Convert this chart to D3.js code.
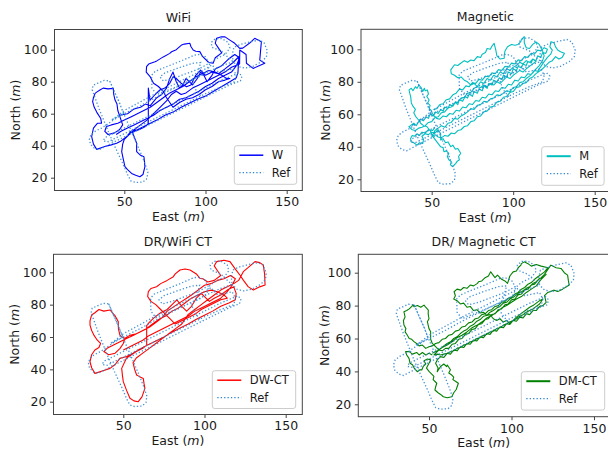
<!DOCTYPE html>
<html><head><meta charset="utf-8">
<script src="https://cdn.jsdelivr.net/npm/d3@7"></script>
<style>body{margin:0;background:#fff}svg{display:block}</style>
</head><body>
<svg id="c" width="608" height="450"></svg>
<script>
const xTicks=[50,100,150];
const yTicks=[20,40,60,80,100];
const titles=["WiFi","Magnetic","DR/WiFi CT","DR/ Magnetic CT"];
const seriesNames=["W","M","DW-CT","DM-CT"];
const refName="Ref";

const refPath=[
 [41,80.5],[44,73.5],[47.5,65.5],[50.5,58],[53.5,51],[56.5,44],[59.5,37],[62.5,29.5],[64.5,23.5],[64,19.5],[61.5,17.3],[57,17],[54,18],[52,22],[49,29],[46,35.5],[43.5,41],[40.5,48],[37.5,55.5],[34.5,63],[32,70],[30.2,75],[30.8,77.8],[33.5,79],[37.5,80.8],[41,80.5],
 [44,73.5],[47,67],[49.5,60],[44,56.5],[36,51],[32,49],[29.5,47],[28.5,44],[29.2,40.8],[31.5,38.5],[34.5,37.5],
 [45,43],[55,48],[65,53],[75,58],[85,63],[95,68],[105,73],[115,78],[121.5,80.5],[122.5,83.5],[120.5,85.5],
 [110,81],[100,76],[90,71],[80,66],[70,61],[60,56],[50,51],[42,47],[38,45],[37,43],[40,42.5],
 [50,47.5],[60,52.5],[70,57.5],[80,62.5],[90,67.5],[100,72.5],[110,77],[118,80],
 [119,84],[117,88],[108,86],[104,90.5],[100,88],
 [90,83],[80,78],[70,73],[60,67.5],[50,62],[45,58],[42,56],
 [50,60],[60,65],[70,70.5],[80,75.5],[90,80.5],[100,85.5],[110,90],[117,92.5],
 [116.5,97],[117.5,101.5],[122,103.5],[128,105],[133,106],[136,104.5],[138,99.5],[137.5,95.5],[134.5,92.5],[129,89.5],[124,88.5],[120,89.5],[117.5,92],
 [113,96],[110,99],[104,101.5],[103.5,104.5],[106,106.8],[110,107],[114,104.5],[115,101],[112,97],[106,94],
 [102.5,91],[101.5,87],[98,84],[90,80.5],[80,76],[70,72],[67,76],[66.8,84],[69,86.5],[75,89],[85,93],[93,96.5],[96,97],[100,95.5],[102.2,91.5],
 [96,88],[88,85],[80,82],[74,80.5],[72,83],[75,85.5],[83,88.5],[92,91.5],[97,92],
 [95,84],[92,80],[94,75],[98,70]
];

const wifiPath=[
 [47,59],[46,62],[45.5,66],[44.3,68.5],[43.5,72],[43.2,75.8],[40,75.5],[37,76],[35,74.8],[33,73.5],[32,72.7],[31,70],[30.5,67.5],[31.5,64],[33,61],[35.5,57],[36,54],[33.4,54],[31,51],[29.9,45.6],[31,41],[33,37.7],[38,39.5],[42,40.5],[45.3,41.5],[48,43],[51.4,45.6],
 [54,49],[58,50],[62,52],[66,54],[70,56],[75,59],[80,61],[85,64],[90,66.5],[95,69],[100,71],[105,74],[110,77],[115,80],[119,82.5],
 [120,86],[120.5,95.6],[117,92],[112,88],[108,85],[104,86],[100,84],[97,87.3],[94,84],[91,78],[88.3,76.9],[85,79],[82,82],[80.1,83.1],[78,79],[75,76],[71.9,74.8],[69,72],[65.8,68.5],
 [64.8,76],[64.8,54],[63,52],[59,50],[55,48.5],[57.6,41.5],[57.6,36.3],[60,34],[62.1,33.1],[62.7,26.9],[61.5,22],[59.6,20.6],[57,21.5],[54.5,22.7],[52,25],[50.4,26.9],[49.5,31],[48.4,36.3],[49,41],[50,44],
 [53,47],[56,50],[60,53],[64,56],[68,60],[72,64],[76,68],[79,72],[82,74],[85,72],[88,73],[92,76],[96,78],[100,80],[104,82],[108,84],[112,86],[116,89],[121,91],
 [121.1,99.8],[125,97],[125.2,91.5],[129.3,88.3],[133,90],[136.5,91.5],[133.4,93.5],[133.8,98],[134.4,105],[130.3,107.1],[127,104],[123,101],[121.1,100.8],[118,104],[115,106],[112,108],[109.8,108.1],[106.8,107.1],[106,104],[108,101],[110,98],[106,95],[104.7,91.5],[102,92],
 [98,96],[96.5,98.8],[94,99],[92.4,99.8],[91,102],[90.4,104],[87,103.5],[85.2,102.9],[82,100],[79.1,98.7],[78,97.7],[74,95.5],[70,93],[68.9,92.5],[65,91],[63.7,89.4],[63.5,86],[66,83],[68,79],[71,77],[74,74],[76,70],[78,67],
 [80,64],[84,67],[88,69],[92,70],[96,72],[100,75],[104,77],[108,80],[112,81],[115,82],[112.9,82.1],[110,84],[106,86],[102,87],[98,85],[94,83],[90,80],[86,77],[82,75],[78,73],[74,70],[70,67],[66,64],[62,62],[58,60],[54,58],[50,56],[46,54],[42,53],[39,52],[38,49],[40,47],[44,48],[47,50],[49,53],[48,56],[47,59],
 [52,60],[56,63],[60,64],[63,66],[66,65],[70,70],[73,72],[76,76],[78,82],[80,86],[82,80],[84,76],[86,78],[88,82],[90,80],[92,78],[95,82],[97,86],[99,84],[101,80],[104,84],[106,88],[110,90],[114,94],[118,97],[121,95],[119,90],[116,86],[112,84],[108,82],[104,79],[100,77],[96,74],[92,72],[88,70],[84,69],[80,66],[76,64],[72,62],[68,59],[64,57],[60,55],[56,53],[52,51],[48,49],[45,47]
];

const magPath=[
 [52,52],[50.5,50],[48,50.5],[46,48.5],[44,49],[42.5,47],[41,48],[39.5,46.5],[38,47],[37,45],[37.5,43],[39,42.5],[41,41],[42.5,42.5],[44.5,42],[45,44.5],[44,46.5],[46,48],[48,47.5],[50,49],[52,48.5],[54,50.5],
 [55.5,48],[55.5,44.2],[57,45],[58.5,42.5],[60,43],[61.7,40.1],[63,41],[64.5,38.5],[66,39],[67.8,36],[66.5,34],[67,32],[65.5,31],[64.8,29.8],[63.5,28.5],[62.7,27.8],[61.5,29],[62,31],[60.5,32],[59.6,34],[60.5,36],[59,37.5],[57.5,37],[57,39.5],[55.5,40],[54,42],[52.5,44],[51,46],
 [49,50],[47,52.5],[45,53],[43.2,54.5],[42,56.5],[40.2,58.6],[39,61],[40,63],[38.5,65],[37.5,67],[37.1,70.9],[36.5,73],[36.1,75],[37.5,76],[38.5,74.5],[40,77],[41,76],[42.2,78],[43.5,76.5],[44.5,74],[45.5,76],[46,74.5],[47.3,75],[48,72.5],[47,71],[48.4,68.8],[47.5,67],[49,65.5],[48.5,63.5],[49.4,62.7],[50.5,60.5],[51.5,59],[53,57.5],
 [55,57],[57,59],[59,58.5],[61,60.5],[63,60],[65,62.5],[67,62],[69,64.5],[71,64],[73,66.5],[75,66],[77,68.5],[79,68],[81,70.5],[83,70],[85,72.5],[87,72],[89,74.5],[91,74],[93,76.5],[95,76],[97,78.5],[99,78],[101,81],[103,80.5],[105,83],[107,82.5],[109,85],[111,84.5],[113,87],[115,86.5],[117,89.5],[119,92.4],
 [121,95],[123,97],[124,99.5],[122.5,101.5],[123.2,104.7],[125,104],[126,101.5],[127.3,99.6],[129,98.5],[131.4,97.5],[130,95],[128,94],[126,95.5],[124,93],[122,92],[120,90],
 [118,88],[116,86.5],[114,85],[112,83],[110,82],[108,79.5],[106,79],[104,77],[102,76.5],[100,74],[98,73.5],[96,71],[94,70.5],[92,68],[90,67.5],[88,65],[86,64.5],[84,62],[82,61.5],[80,59],[78,58.5],[76,56],[74,55.5],[72,53],[70,52.5],[68,50.5],[66,50],[64,48],[62,48.5],[60,46.5],[58,47],[56,45.5],[54,46],[52,47.5],[50,46],
 [52,50],[54,51.5],[56,53],[58,52],[60,54.5],[62,55],[64,57.5],[66,57],[68,59],[70,60],[72,61.5],[74,63.5],[76,63],[78,65.5],[80,66],[82,68],[84,67.5],[86,69.5],[88,70],[90,72],[92,71.5],[94,73],[96,74.5],[98,74],[100,76.5],[102,77],[104,79.5],[106,80],[108,82],[110,83.5],[112,85.5],[114,88],[116,90],[118,93],[119,96],[118,99],[117,101],[116,103],[114,104.5],[112,103],[110,100.5],[108,101],[106.8,104],[106.8,107.8],[105,106],[104.7,104.7],[103,103],[101,102.5],[99,103],[96.5,101.6],[95,99],[94.5,96.5],[94.5,94.5],
 [92,94],[90,96],[89.3,99.6],[88.3,103.7],[87,102],[86,100],[84,100.5],[83,98],[81,97],[80,95],[78,95.5],[76,93],[74,93.4],[72,92],[70,93],[67.8,91.4],[66,90],[64,90.5],[61.7,87.3],[62,85],[64,84],[66,82.5],[68,83],[70,81],[72,80],[74,78],[76,79],[78,77],[80,76.5],[82,78],[84,77],[86,79],[88,78],[90,80],[92,79],[94,81],[96,83],[98,82],[100,84],[102,85.5],[104,87],[106,86],[108,88],[110,89.5],[112,91],[114,92.5],
 [112,94],[110,92],[108,93],[106,91],[104,92],[102,90],[100,89],[98,87],[96,88],[94,85],[92,86],[90,83],[88,84],[86,81],[84,82],[82,79],[80,80],[78,77],[76,76],[74,73.5],[72,73],[70,70.5],[68,70],[66,67.5],[64,67],[62,64.5],[60,64],[58,61.5],[56,61],[54,58.5],[52,58],[50,55.5],[48,55],[46,53],[44,52],[42,51.5],[40,50],[38,50.5],[36,52.4],[37,53],
 [39,54.5],[40.5,53],[42,55.5],[43,57],[45,56],[46.5,58.5],[48,57.5],[49,60],[51,59],[52.5,61.5],[54,60.5],[55.5,63],[57,62],[58,64.5],[60,63.5],[61,66],[63,65],[64.5,67.5],[66,66],[67,69],[69,68],[70.5,71],[72,70],[73,72.5],[75,71],[76,74],[78,73],[79,75.5],[81,74.5],[82,77.5],[84,76],[85,79],[87,78],[88,81],[90,80],[91.5,82.5],[93,81.5],[94,84],[96,83],[97,86],[99,85],[100,88],[102,87],[103,89.5],[105,88.5],[106,91],[108,90],[109,92.5],[111,91.5],[112,94],[114,93],[115,96],[117,95],[118,98],[120,97.5],[121,100],[119,101],[117,99],[115,99.5],[113,97],[111,97.5],[109,95],[107,95.5],[105,93],[103,93.5],[101,91],[99,91.5],[97,89],[95,89.5],[93,87],[91,87.5],[89,85],[87,85.5],[85,83],[83,83.5],[81,81],[79,81.5],[77,79],[75,79.5],[73,77],[71,77.5],[69,75],[67,75.5],[65,73],[63,72],[61,69.5],[59,69],[57,66.5],[55,66],[53,63.5],[51,63]
];

const dwctPath=[
 [51,59.2],[49,60],[47.9,61.2],[47,65],[46.9,69.5],[45,73],[41.8,76.7],[38,76],[35,77],[32.5,75],[30.5,73.6],[29.5,70],[29.5,67.4],[30.5,64],[32,61],[34,58],[36,56],[35,53.5],[32.5,52],[30.5,49],[29.5,44.7],[30.5,41],[32.5,37.5],[37,39],[41.8,40.6],[45,43],[47.9,46.8],
 [52,48],[56,50],[60,52.5],[65,55],[70,57.5],[75,60],[80,63],[85,65.5],[90,68],[95,71],[100,73.5],[105,76],[110,79],[115,81],[119,83],
 [119.5,87],[118,91],[114,89],[110,86],[106,84],[103,82],[100,85],[98,87],[95,84],[92,79],[89,76],[86,79],[83,83],[80,80],[77,77],[73,75],[69,72],[66,69],
 [64.4,67],[64.4,55],[62,53],[58,51],[55,49],[52,47],[49,40.6],[49.5,36],[50,32.4],[52,27],[54.1,22.1],[56.5,20.5],[59.2,20],[61.5,23],[63.3,28.2],[62.8,31],[62.3,34.4],[60,35.5],[58.2,36.5],[57,40],[56,44],
 [58,47],[62,50],[66,53],[70,56],[74,59],[78,62],[82,65],[86,68],[88,71],[90,74],[94,77],[98,80],[102,83],[106,86],[110,89],[114,91],[118,93],[121,95],
 [123.9,100.4],[127,103],[131.1,106.6],[134,106],[136.2,104.5],[137,99],[137.3,92.2],[134,91],[130.1,89.1],[127,91],[124,95],[122,98],[119,102],[115.7,106.6],[112,107.5],[107.5,106.6],[106,104],[108,101],[110,98],[106,95],[102,94],
 [99,96],[97.2,96.3],[95,99],[91.1,101.4],[88,102],[84.9,101.4],[82,99],[80.8,97.3],[77,95],[73,93],[70.5,91.1],[67,90],[65.4,88],[65,85],[67,82],[70,80],[73,77],[76,74],[79,71],
 [82,68],[86,70],[90,72],[94,74],[98,77],[102,79],[106,81],[110,83],[114,84],[112,86],[108,88],[104,89],[100,88],[96,86],[92,84],[88,81],[84,78],[80,76],[76,73],[72,71],[68,68],[64,65],[60,63],[56,61],[52,59],[48,57],[44,55],[40,53],[38,51],[41,49],[45,50],[48,53],[50,56],[51,59.2],
 [54,61],[58,62],[62,64],[66,66],[70,69],[74,72],[77,76],[80,78],[83,80],[86,82],[89,84],[92,86],[96,89],[100,92],[104,93],[108,95],[112,96],[116,98],[119,96],[117,92],[114,88],[110,84],[106,82],[102,80],[98,78],[94,76],[90,73],[86,71],[82,69],[78,67],[74,65],[70,63],[66,61],[62,58],[58,56],[54,54],[50,52]
];

const dmctPath=[
 [52,50],[50,51],[48,50],[46,51.5],[44,50],[42.5,51.5],[40,50.5],[38,52],[35.8,52],[36.5,50],[37.9,47.9],[38.5,45],[40,44],[41,42],[42.9,39.8],[44.5,41],[45.6,40.9],[46.5,43],[48,44.5],[47,46.5],[49,47.5],[51,47],
 [50,45],[48.5,42],[50,40],[51.5,38.5],[53,37],[52.5,35],[54.7,32.8],[54,30.5],[53.6,28.7],[55.5,27],[57,26],[58.7,24.6],[61,24],[63.8,24.6],[65,27],[66.5,29],[67.8,32.8],[66,34],[64.5,35],[65,36.5],[63.8,37.8],[62,39],[63,41],[61.1,43.9],[60.7,42.9],[59,44.5],[57,43],[55,39.8],[55.5,42],[54,45],[55,47],
 [57,49],[59,48.5],[61,51],[63,50.5],[65,53],[67,52.5],[69,55],[71,54.5],[73,57],[75,56.5],[77,59],[79,58.5],[81,61],[83,60.5],[85,63],[87,62.5],[89,65],[91,64.5],[93,67],[95,66.5],[97,69],[99,68.5],[101,71],[103,70.5],[105,73],[107,72.5],[109,75],[111,74.5],[113,77],[115,77],[117,79.5],[119,80],[121,82],
 [120,86],[122,88],[125.9,89.4],[128,88.5],[131,90],[135,92.5],[134.5,95],[134,98.5],[132,100],[130,102.6],[127,103],[123.9,104.6],[122,102],[120,99],[118,97],[116,95.5],[114,93],
 [112,92.5],[110,90],[108,89.5],[106,87],[104,86.5],[102,84],[100,83.5],[98,81],[96,80.5],[94,78],[92,77.5],[90,75],[88,74.5],[86,72],[84,71.5],[82,69],[80,68.5],[78,66],[76,65.5],[74,63],[72,62.5],[70,60],[68,59.5],[66,57],[64,56.5],[62,54],[60,54],[58,52.5],[56,53],[54,55],
 [52,57],[51,59.5],[51,64.1],[50,66],[49,70.2],[50,72],[49.5,75],[49.6,77.3],[48,79],[47,80.3],[45,79],[43,80],[40.9,79.3],[40.5,80.4],[38,78],[36.5,77],[34.8,76.3],[35.5,73],[34.5,71],[34.8,68.2],[36,66],[35.5,64],[36.8,62.1],[38,60],[39.5,59.5],[40.9,58.1],[42.5,57],[44,55.5],[46,56],[48,54],
 [50,55],[52,55.5],[54,57],[56,57.5],[58,59.5],[60,60],[62,62],[64,62.5],[66,64.5],[68,65],[70,67],[72,67.5],[74,69.5],[76,70],[78,72],[80,72.5],[82,74.5],[84,75],[86,77],[88,77.5],[90,79.5],[92,80],[94,82],[96,82.5],[98,84.5],[100,85],[102,87],[104,88],[106,90],[108,91],[110,93],[112,94],[114,96],[116,97.5],[118,99],[120,100.5],[122,103],
 [118,104],[115,105],[112,104],[110,105.5],[107.7,106.6],[106,105.5],[105.7,104.6],[104,103],[103,101],[101,100.5],[99,98],[97.6,93.5],[96,95],[94,96],[91.5,98.5],[90,97],[88.5,99],[87.4,100.6],[86,98],[84,97],[82,95],[80,94.5],[79.4,93.5],[77,92],[75,92.5],[73,90.5],[71,91],[69.2,89.4],[67,90],[65.2,88.4],[66,86],[65,84],[67,83],[69,81],[71,81.5],[73,79],[75,79.5],[77,77],[79,77.5],[81,75.5],[83,76],[85,74],[87,74.5],[89,72],[91,71],[93,72],[95,70],[97,71],[99,69],[101,71],[103,73],[105,74.5],[107,76],[109,77.5],[111,79],[113,80],[115,81.5],[117,83],[119,84],
 [117,81],[115,79.5],[113,78],[111,77],[109,76],[107,74.5],[105,73.5],[103,72],[101,71],[99,70],[97,69],[95,68],[93,66.5],[91,66],[89,64.5],[87,64],[85,62.5],[83,62],[81,60.5],[79,60],[77,58.5],[75,58],[73,56.5],[71,56],[69,54.5],[67,54],[65,52.5],[63,52],[61,51],[59,50.5],[57,50],[55,50.5],[53,50],
 [55,52],[57,54],[59,55.5],[61,57],[63,58],[65,60],[67,61],[69,63],[71,64.5],[73,65.5],[75,67.5],[77,68.5],[79,70.5],[81,71.5],[83,73.5],[85,74],[87,76],[89,77],[91,78.5],[93,79.5],[95,81.5],[97,82],[99,84],[101,85],[103,86.5],[105,88],[107,89],[109,90.5],[111,91.5],[113,93.5],[115,94.5],[117,96.5],[119,97],[121,99],[118,96],[115,92],[112,90],[109,88],[106,85.5],[103,84],[100,82],[97,80],[94,78.5],[91,76],[88,74],[85,72.5],[82,70],[79,68],[76,66.5],[73,64],[70,62],[67,60.5],[64,58],[61,56],[58,54.5],[55,52.5],[52,51]
];

const seriesData=[wifiPath,magPath,dwctPath,dmctPath];
const colors=["#0000ff","#00bfbf","#ff0000","#008000"];

const panels=[
 {L:54.5,R:302.3,T:29.5,B:190.5,x50:124.3,x150:286.7,y100:49.7,y20:177.7,ylab:15,leg:[234.3,145.7,62.4,38.6],legW:1.5},
 {L:361,R:609.5,T:29.3,B:191.5,x50:431.7,x150:594.7,y100:49.3,y20:179.3,ylab:325.5,leg:[541.7,146.7,62.4,38.6],legW:2},
 {L:53.5,R:302.3,T:254.3,B:414.5,x50:123.3,x150:285.7,y100:272.3,y20:401.7,ylab:14.5,leg:[212.3,370.7,83.4,37.8],legW:1.5},
 {L:358.3,R:609,T:254.3,B:416.7,x50:429,x150:594,y100:272.7,y20:404.3,ylab:324.8,leg:[521.3,371.7,83.4,38.4],legW:2}
];

const svg=d3.select("#c");
const FONT="DejaVu Sans";
const TXT="#1a1a1a";

panels.forEach((p,i)=>{
  const x=d3.scaleLinear().domain([50,150]).range([p.x50,p.x150]);
  const y=d3.scaleLinear().domain([20,100]).range([p.y20,p.y100]);
  const g=svg.append("g");
  const cid="clip"+i;
  svg.append("clipPath").attr("id",cid).append("rect")
    .attr("x",p.L).attr("y",p.T).attr("width",p.R-p.L).attr("height",p.B-p.T);
  const line=d3.line().x(d=>x(d[0])).y(d=>y(d[1]));
  const plot=g.append("g").attr("clip-path",`url(#${cid})`);
  plot.append("path").attr("d",line(seriesData[i])).attr("fill","none")
    .attr("stroke",colors[i]).attr("stroke-width",1.1).attr("stroke-linejoin","round");
  plot.append("path").attr("d",line(refPath)).attr("fill","none")
    .attr("stroke","#2f86d2").attr("stroke-width",1.3).attr("stroke-dasharray","1.3,2.1").attr("opacity",0.9);
  g.append("rect").attr("x",p.L).attr("y",p.T).attr("width",p.R-p.L).attr("height",p.B-p.T)
    .attr("fill","none").attr("stroke","#444").attr("stroke-width",1);
  const ax=g.append("g").attr("transform",`translate(0,${p.B})`)
    .call(d3.axisBottom(x).tickValues(xTicks).tickSize(3.5).tickPadding(3.5).tickSizeOuter(0));
  const ay=g.append("g").attr("transform",`translate(${p.L},0)`)
    .call(d3.axisLeft(y).tickValues(yTicks).tickSize(3.5).tickPadding(3.5).tickSizeOuter(0));
  [ax,ay].forEach(a=>{
    a.select(".domain").remove();
    a.selectAll("line").attr("stroke","#444");
    a.selectAll("text").attr("font-family",FONT).attr("font-size",12.5).attr("fill",TXT);
  });
  g.append("text").attr("x",(p.L+p.R)/2).attr("y",p.T-8).attr("text-anchor","middle")
    .attr("font-family",FONT).attr("font-size",12.5).attr("fill",TXT).text(titles[i]);
  const xl=g.append("text").attr("x",(p.L+p.R)/2).attr("y",p.B+30).attr("text-anchor","middle")
    .attr("font-family",FONT).attr("font-size",12.5).attr("fill",TXT);
  xl.append("tspan").text("East (");
  xl.append("tspan").attr("font-style","italic").text("m");
  xl.append("tspan").text(")");
  const yl=g.append("text").attr("transform",`translate(${p.ylab+4.5},${(p.T+p.B)/2}) rotate(-90)`)
    .attr("text-anchor","middle").attr("font-family",FONT).attr("font-size",12.5).attr("fill",TXT);
  yl.append("tspan").text("North (");
  yl.append("tspan").attr("font-style","italic").text("m");
  yl.append("tspan").text(")");
  const [lx,ly,lw,lh]=p.leg;
  const lg=g.append("g");
  lg.append("rect").attr("x",lx).attr("y",ly).attr("width",lw).attr("height",lh).attr("rx",2.5)
    .attr("fill","#fff").attr("fill-opacity",0.8).attr("stroke","#cccccc").attr("stroke-width",1);
  const r1=ly+9.5, r2=ly+27;
  lg.append("line").attr("x1",lx+5).attr("x2",lx+29).attr("y1",r1).attr("y2",r1)
    .attr("stroke",colors[i]).attr("stroke-width",p.legW);
  lg.append("line").attr("x1",lx+5).attr("x2",lx+29).attr("y1",r2).attr("y2",r2)
    .attr("stroke","#2f86d2").attr("stroke-width",1.3).attr("stroke-dasharray","1.3,2.1");
  lg.append("text").attr("x",lx+37.5).attr("y",r1+4).attr("font-family",FONT).attr("font-size",11.5)
    .attr("fill",TXT).text(seriesNames[i]);
  lg.append("text").attr("x",lx+37.5).attr("y",r2+4).attr("font-family",FONT).attr("font-size",11.5)
    .attr("fill",TXT).text(refName);
});
</script>
</body></html>
